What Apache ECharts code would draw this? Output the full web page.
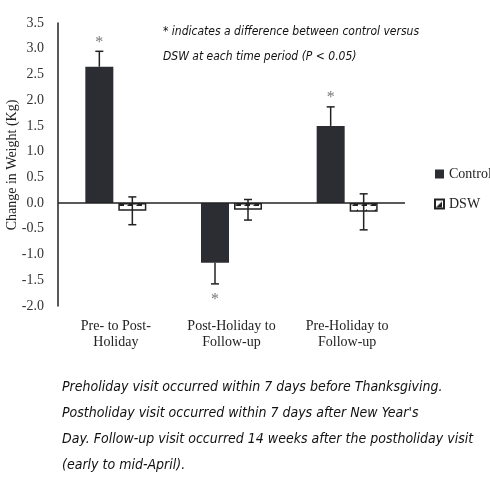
<!DOCTYPE html>
<html><head><meta charset="utf-8">
<script src="https://cdn.jsdelivr.net/npm/echarts@6/dist/echarts.min.js"></script>
<style>html,body{margin:0;padding:0;background:#fff}#c{width:490px;height:500px}</style>
</head><body><div id="c"></div><script>
const categories = ['Pre- to Post-\nHoliday', 'Post-Holiday to\nFollow-up', 'Pre-Holiday to\nFollow-up'];
const controlMean = [2.65, -1.16, 1.50];
const controlErr = [0.30, 0.41, 0.37];
const dswMean = [-0.15, -0.13, -0.17];
const dswErr = [0.27, 0.20, 0.35];
const significant = [true, true, true];
const yMin = -2.0, yMax = 3.5, yStep = 0.5;
const yTitle = 'Change in Weight (Kg)';
const noteTop = ['* indicates a difference between control versus', 'DSW at each time period (P < 0.05)'];
const noteBottom = ["Preholiday visit occurred within 7 days before Thanksgiving.", "Postholiday visit occurred within 7 days after New Year's", "Day. Follow-up visit occurred 14 weeks after the postholiday visit", "(early to mid-April)."];

const BAR_W = 28, GAP = 5;
const serif = '"Liberation Serif","Times New Roman",serif';
const hand = '"DejaVu Sans Condensed",sans-serif';

const pc = document.createElement('canvas'); pc.width = 9; pc.height = 9;
const g = pc.getContext('2d');
g.fillStyle = '#fff'; g.fillRect(0, 0, 9, 9);
g.fillStyle = '#222'; g.beginPath(); g.moveTo(1, 8); g.lineTo(7, 2); g.lineTo(7, 8); g.closePath(); g.fill();
const hatch = { image: pc, repeat: 'repeat' };

function errData(means, errs, sig) {
  return means.map((m, i) => [i, m, errs[i], sig ? (sig[i] ? 1 : 0) : 0]);
}
function errRender(offset) {
  return function (params, api) {
    const i = api.value(0), m = api.value(1), e = api.value(2), s = api.value(3);
    const dir = m >= 0 ? 1 : -1;
    const off = offset * (BAR_W + GAP) / 2;
    const pm = api.coord([i, m]);
    const cx = pm[0] + off;
    const p1 = api.coord([i, m + e]);
    const p2 = api.coord([i, m - e]);
    const isDsw = offset > 0;
    const top = isDsw ? p1[1] : (dir > 0 ? p1[1] : pm[1]);
    const bot = isDsw ? p2[1] : (dir > 0 ? pm[1] : p2[1]);
    const st = { stroke: '#222', lineWidth: 1.5 };
    const ch = [
      { type: 'line', shape: { x1: cx, y1: top, x2: cx, y2: bot }, style: st },
    ];
    if (isDsw || dir > 0) ch.push({ type: 'line', shape: { x1: cx - 4, y1: top, x2: cx + 4, y2: top }, style: st });
    if (isDsw || dir < 0) ch.push({ type: 'line', shape: { x1: cx - 4, y1: bot, x2: cx + 4, y2: bot }, style: st });
    if (s) {
      ch.push({ type: 'text', style: { text: '*', x: cx, y: dir > 0 ? top - 9 : bot + 16, align: 'center', verticalAlign: 'middle', font: '16px ' + serif, fill: '#777' } });
    }
    return { type: 'group', children: ch };
  };
}

const chart = echarts.init(document.getElementById('c'));
chart.setOption({
  animation: false,
  backgroundColor: '#fff',
  grid: { left: 58, top: 23, right: 85, bottom: 194, containLabel: false, outerBoundsMode: 'none' },
  legend: {
    orient: 'vertical', left: 429, top: 162, itemWidth: 9, itemHeight: 9, itemGap: 16,
    icon: 'rect',
    textStyle: { fontFamily: serif, fontSize: 14, color: '#222' },
    data: ['Control', 'DSW']
  },
  xAxis: {
    type: 'category', data: categories,
    axisLine: { show: false, onZero: false }, axisTick: { show: false },
    axisLabel: { interval: 0, fontFamily: serif, fontSize: 14, color: '#222', margin: 12, lineHeight: 16 }
  },
  yAxis: {
    type: 'value', min: yMin, max: yMax, interval: yStep,
    axisLine: { show: true, lineStyle: { color: '#222', width: 1.5 } },
    axisTick: { show: false }, splitLine: { show: false },
    axisLabel: { fontFamily: serif, fontSize: 14, color: '#333', margin: 14, formatter: v => v.toFixed(1) }
  },
  series: [
    {
      name: 'Control', type: 'bar', data: controlMean, barWidth: BAR_W, barGap: (GAP / BAR_W * 100) + '%',
      itemStyle: { color: '#2b2d33' },
      markLine: { silent: true, symbol: 'none', label: { show: false }, lineStyle: { color: '#222', width: 1.5, type: 'solid' }, data: [{ yAxis: 0 }] }
    },
    {
      name: 'DSW', type: 'bar', data: dswMean, barWidth: BAR_W,
      itemStyle: { color: hatch, borderColor: '#222', borderWidth: 1.5 }
    },
    { type: 'custom', renderItem: errRender(-1), data: errData(controlMean, controlErr, significant), z: 5, silent: true },
    { type: 'custom', renderItem: errRender(1), data: errData(dswMean, dswErr, null), z: 5, silent: true }
  ],
  graphic: [
    { type: 'text', x: 12, y: 165, rotation: Math.PI / 2, style: { text: yTitle, align: 'center', verticalAlign: 'middle', font: '14px ' + serif, fill: '#222' } },
    { type: 'text', left: 163, top: 19, style: { text: noteTop.join('\n'), font: 'italic 12px ' + hand, lineHeight: 25, fill: '#111' } },
    { type: 'text', left: 62, top: 374, style: { text: noteBottom.join('\n'), font: 'italic 14px ' + hand, lineHeight: 26, fill: '#111' } }
  ]
});
</script></body></html>
